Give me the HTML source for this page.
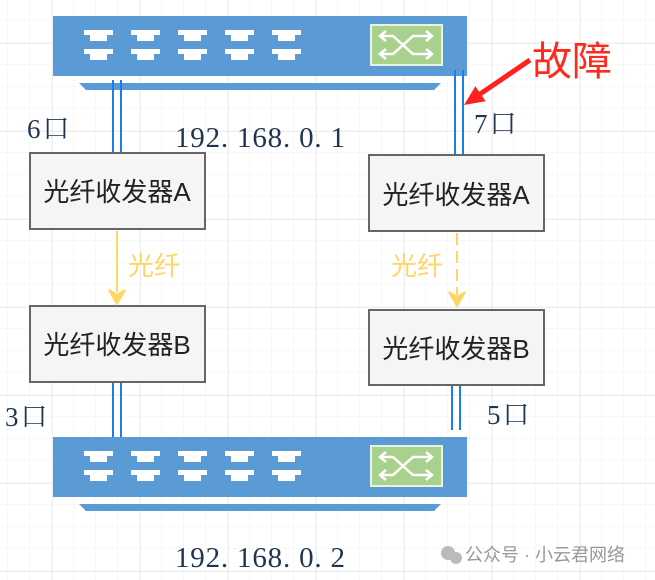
<!DOCTYPE html>
<html><head><meta charset="utf-8"><style>
body{margin:0;width:655px;height:580px;overflow:hidden;background:#fff}
svg{display:block}
.s{font-family:"Liberation Serif","Noto Serif CJK SC",serif;fill:#1f3550}
.b{font-family:"Liberation Sans","Noto Sans CJK SC",sans-serif;fill:#222;font-size:26px}
</style></head><body>
<svg width="655" height="580" viewBox="0 0 655 580" xmlns="http://www.w3.org/2000/svg">
<defs>
<pattern id="g1" x="8" y="-1" width="22" height="22" patternUnits="userSpaceOnUse"><path d="M22 0V22M0 22H22" stroke="#f0f0f0" stroke-width="1" fill="none"/></pattern>
<pattern id="g2" x="52" y="43" width="88" height="88" patternUnits="userSpaceOnUse"><path d="M0 0V88M0 0H88" stroke="#dcdcdc" stroke-width="1" fill="none"/></pattern>
<g id="sw">
<rect x="0" y="0" width="414" height="60" fill="#5b9bd5"/>
<g fill="#fff">
<g id="pt"><path d="M31 14h29v5h-6v6h-17v-6h-6z"/><path d="M31 33h29v5h-6v6h-17v-6h-6z"/></g>
<use href="#pt" x="47"/><use href="#pt" x="94"/><use href="#pt" x="141"/><use href="#pt" x="188"/>
</g>
<rect x="318" y="9" width="71" height="40" fill="#a9d18e" stroke="#e8f2e0" stroke-width="2"/>
<g stroke="#fff" stroke-width="2.5" fill="none"><path d="M328 20h12l20 18h18M328 38h12l20-18h18"/><path d="M333 15l-6 5 6 5M373 15l6 5-6 5M333 33l-6 5 6 5M373 33l6 5-6 5"/></g>
<path d="M26 67h362l-7 7h-348z" fill="#5b9bd5"/>
</g>
</defs>
<rect width="655" height="580" fill="url(#g1)"/>
<rect width="655" height="580" fill="url(#g2)"/>
<use href="#sw" x="53" y="16"/>
<use href="#sw" x="53" y="437"/>
<g stroke="#1a7fe6" stroke-width="2" fill="none">
<path d="M113 80V153M121 80V153"/>
<path d="M113 382V437M121 382V437"/>
<path d="M455 70V155M463 70V158H458"/>
<path d="M452 385V430M460 385V430"/>
</g>
<g fill="#f5f5f5" stroke="#666" stroke-width="2">
<rect x="30" y="153" width="175" height="76"/>
<rect x="369" y="155" width="175" height="76"/>
<rect x="30" y="306" width="175" height="76"/>
<rect x="369" y="310" width="175" height="75"/>
</g>
<text class="b" x="117" y="201" text-anchor="middle">光纤收发器A</text>
<text class="b" x="456" y="204" text-anchor="middle">光纤收发器A</text>
<text class="b" x="117" y="354" text-anchor="middle">光纤收发器B</text>
<text class="b" x="456" y="358" text-anchor="middle">光纤收发器B</text>
<g stroke="#ffd666" stroke-width="2" fill="#ffd666">
<path d="M117 231V292"/><path d="M109 290l8 14 8-14-8 5z"/>
<path d="M457 233V295" stroke-dasharray="12 6"/><path d="M449 292l8 14 8-14-8 5z"/>
</g>
<text x="128" y="275" font-family="Liberation Sans,Noto Sans CJK SC,sans-serif" font-size="26" fill="#ffd666">光纤</text>
<text x="391" y="275" font-family="Liberation Sans,Noto Sans CJK SC,sans-serif" font-size="26" fill="#ffd666">光纤</text>
<path d="M531.4 62.1L481.9 95.8L485.6 101.2L464 105L475.4 86.3L479.1 91.7L528.6 57.9z" fill="#ff2020"/>
<text x="532" y="75" font-family="Liberation Sans,Noto Sans CJK SC,sans-serif" font-size="40" fill="#ff2a1a">故障</text>
<text class="s" x="27" y="138" font-size="27" letter-spacing="2">6口</text>
<text class="s" x="474" y="133" font-size="27" letter-spacing="2">7口</text>
<text class="s" x="5" y="426" font-size="27" letter-spacing="2">3口</text>
<text class="s" x="487" y="424" font-size="27" letter-spacing="2">5口</text>
<text class="s" x="175" y="147" font-size="29" textLength="170" lengthAdjust="spacing">192. 168. 0. 1</text>
<text class="s" x="175" y="567" font-size="29" textLength="170" lengthAdjust="spacing">192. 168. 0. 2</text>
<circle cx="448" cy="553" r="7" fill="#bbb"/><circle cx="456" cy="558" r="6" fill="#bbb"/>
<text x="465" y="561" font-family="Liberation Sans,Noto Sans CJK SC,sans-serif" font-size="18" fill="#999">公众号 · 小云君网络</text>
</svg>
</body></html>
